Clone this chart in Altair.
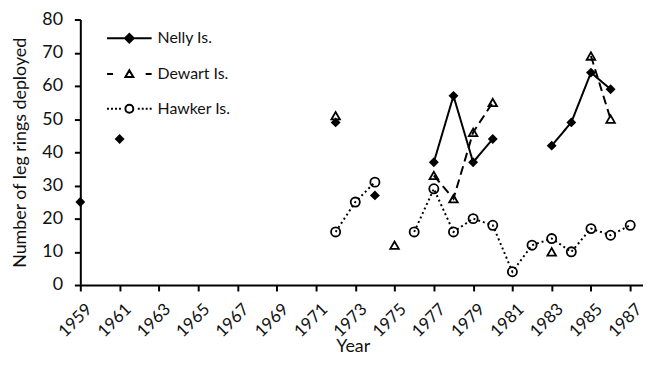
import altair as alt
import pandas as pd

names = ["Nelly Is.", "Dewart Is.", "Hawker Is."]

nelly_years = [1959, 1961, 1972, 1974, 1977, 1978, 1979, 1980, 1983, 1984, 1985, 1986]
nelly_vals = [25, 44, 49, 27, 37, 57, 37, 44, 42, 49, 64, 59]

dewart_years = [1972, 1975, 1977, 1978, 1979, 1980, 1983, 1985, 1986]
dewart_vals = [51, 12, 33, 26, 46, 55, 10, 69, 50]

hawker_years = [1972, 1973, 1974, 1976, 1977, 1978, 1979, 1980, 1981, 1982, 1983, 1984, 1985, 1986, 1987]
hawker_vals = [16, 25, 31, 16, 29, 16, 20, 18, 4, 12, 14, 10, 17, 15, 18]

x_ticks = list(range(1959, 1988, 2))
y_ticks = list(range(0, 81, 10))

FONT = "Lato"

rows = []
for name, yrs, vals in zip(names, [nelly_years, dewart_years, hawker_years],
                            [nelly_vals, dewart_vals, hawker_vals]):
    seg = 0
    prev = None
    for y, v in zip(yrs, vals):
        if prev is not None and y - prev > 1:
            seg += 1
        rows.append({"series": name, "year": y, "value": v, "seg": f"{name}-{seg}"})
        prev = y
df = pd.DataFrame(rows)

xs = alt.Scale(domain=[1959, 1987.65], nice=False, zero=False)
ys = alt.Scale(domain=[0, 80], nice=False)

X = alt.X("year:Q", scale=xs, title="Year",
          axis=alt.Axis(values=x_ticks, format="d", labelAngle=-45, labelAlign="right",
                        labelBaseline="top", grid=False, tickSize=6, labelPadding=10,
                        labelOffset=3, labelOverlap=False, labelFlush=False, labelFontSize=17,
                        titleX=275, titleY=67, titleBaseline="alphabetic"))
Y = alt.Y("value:Q", scale=ys, title="Number of leg rings deployed",
          axis=alt.Axis(values=y_ticks, grid=False, tickSize=6, labelPadding=12, titlePadding=12,
                        labelOverlap=False, labelFlush=False))

base = alt.Chart(df)

dashes = [[1, 0], [9, 5], [2, 3]]
line_layers = [
    base.transform_filter(alt.datum.series == nm).mark_line(
        color="black", strokeWidth=2, strokeDash=dash).encode(x=X, y=Y, detail="seg:N")
    for nm, dash in zip(names, dashes)
]

p_nelly = base.transform_filter(alt.datum.series == names[0]).mark_point(
    shape="diamond", filled=True, color="black", size=100, opacity=1).encode(x=X, y=Y)
p_dewart = base.transform_filter(alt.datum.series == names[1]).mark_point(
    shape="triangle-up", filled=False, color="black", size=75, strokeWidth=1.8, opacity=1).encode(x=X, y=Y)
p_hawker = base.transform_filter(alt.datum.series == names[2]).mark_point(
    shape="circle", filled=False, color="black", size=85, strokeWidth=1.8, opacity=1).encode(x=X, y=Y)

# legend key glyphs (line + marker), in symbol units (1 unit = 10 px at size 400)
c = 3.05
sym_nelly = "M0.8,0L5.3,0" + "".join(
    f"M{c},{-r}L{c + r},0L{c},{r}L{c - r},0Z" for r in (0.44, 0.32, 0.2, 0.08))
sym_dewart = f"M0.8,0L1.4,0M4.7,0L5.3,0M{c},-0.38L{c + 0.4},0.3L{c - 0.4},0.3Z"
sym_hawker = ("".join(f"M{x0},0L{x0 + 0.2:.2f},0" for x0 in (0.8, 1.2, 1.6, 2.0, 3.9, 4.3, 4.7, 5.1))
              + f"M{c + 0.4},0A0.4,0.4,0,1,1,{c - 0.4},0A0.4,0.4,0,1,1,{c + 0.4},0Z")

leg = alt.Legend(title=None, orient="top-left", offset=8, padding=0, labelFont=FONT,
                 labelFontSize=16, labelColor="#111", symbolSize=400, symbolStrokeWidth=2,
                 symbolStrokeColor="black", symbolFillColor="transparent", symbolOpacity=1,
                 rowPadding=16, labelOffset=48)

legend_layer = base.mark_point(opacity=0, size=400, filled=False, color="black", strokeWidth=2).encode(
    x=X, y=Y,
    shape=alt.Shape("series:N", scale=alt.Scale(domain=names, range=[sym_nelly, sym_dewart, sym_hawker]),
                    legend=leg, sort=names),
)

chart = alt.layer(*line_layers, p_nelly, p_dewart, p_hawker, legend_layer).properties(
    width=568, height=268,
    autosize=alt.AutoSizeParams(type="none"),
    padding={"left": 73, "top": 10, "right": 0, "bottom": 68},
).configure_view(stroke=None).configure_axis(
    domainColor="black", domainWidth=2, tickColor="black", tickWidth=2,
    labelFont=FONT, labelFontSize=18, labelColor="#111",
    titleFont=FONT, titleFontSize=18, titleFontWeight="normal", titleColor="#111",
)

chart.save("out.html", embed_options={"renderer": "svg", "actions": False})
